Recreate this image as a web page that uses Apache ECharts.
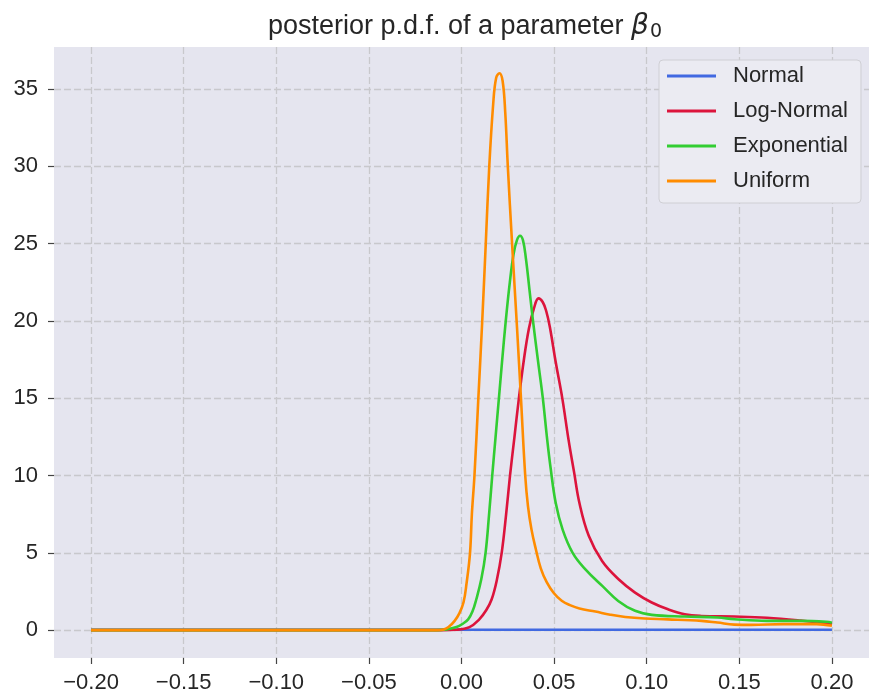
<!DOCTYPE html>
<html>
<head>
<meta charset="utf-8">
<title>posterior p.d.f. of a parameter β0</title>
<script src="https://cdn.jsdelivr.net/npm/echarts@6/dist/echarts.min.js"></script>
<style>
  html, body { margin: 0; padding: 0; background: #ffffff; }
  #chart { width: 869px; height: 700px; }
</style>
</head>
<body>
<div id="chart"></div>
<script>
// Posterior densities of beta_0 under four priors (x: parameter value, y: density)
const normalX = [-0.2, -0.1, 0.0, 0.1, 0.2];
const normalY = [0.03, 0.03, 0.03, 0.03, 0.03];

const logNormalX = [-0.2, -0.1, -0.0107, -0.0027, 0.0043, 0.0096, 0.0134, 0.0163, 0.0190, 0.0217,
  0.0241, 0.0262, 0.0286, 0.0310, 0.0337, 0.0364, 0.0391, 0.0416, 0.0439, 0.0458,
  0.0477, 0.0509, 0.0544, 0.0578, 0.0608, 0.0637, 0.0687, 0.0759, 0.0848, 0.0937,
  0.1027, 0.1115, 0.1205, 0.1294, 0.1473, 0.1649, 0.1831, 0.2000];
const logNormalY = [0, 0, 0, 0.03, 0.2, 0.7, 1.3, 2.0, 3.2, 5,
  7.5, 10, 12.5, 15, 17.5, 19.5, 20.8, 21.45, 21.2, 20.6,
  19.6, 17.3, 15, 12.3, 10.2, 8.2, 6.1, 4.47, 3.29, 2.43,
  1.79, 1.35, 1.03, 0.92, 0.88, 0.8, 0.62, 0.4];

const exponentialX = [-0.2, -0.1, -0.0134, -0.0080, -0.0027, 0.0005, 0.0036, 0.0059, 0.0080, 0.0107,
  0.0130, 0.0149, 0.0166, 0.0184, 0.0202, 0.0220, 0.0239, 0.0261, 0.0281, 0.0299,
  0.0316, 0.0332, 0.0348, 0.0367, 0.0386, 0.0412, 0.0439, 0.0461, 0.0482, 0.0509,
  0.0546, 0.0600, 0.0669, 0.0760, 0.0846, 0.0937, 0.1028, 0.1205, 0.1382, 0.1473,
  0.1649, 0.1831, 0.1971, 0.2000];
const exponentialY = [0, 0, 0, 0.05, 0.2, 0.4, 0.7, 1.2, 2.0, 3.3,
  5, 7.5, 10, 12.5, 15, 17.5, 20, 22.5, 24.3, 25.2,
  25.5, 25.2, 24, 22, 20, 17.5, 15, 12.5, 10.4, 8.2,
  6.5, 5.0, 3.93, 2.86, 1.89, 1.25, 0.99, 0.88, 0.82, 0.71,
  0.6, 0.6, 0.54, 0.48];

const uniformX = [-0.2, -0.1, -0.0134, -0.0096, -0.0070, -0.0037, -0.0011, 0.0011, 0.0027, 0.0046,
  0.0056, 0.0070, 0.0091, 0.0112, 0.0131, 0.0150, 0.0171, 0.0187, 0.0205, 0.0222,
  0.0236, 0.0250, 0.0273, 0.0300, 0.0321, 0.0344, 0.0359, 0.0378, 0.0402, 0.0428,
  0.0460, 0.0498, 0.0541, 0.0589, 0.0637, 0.0723, 0.0803, 0.0884, 0.0990, 0.1114,
  0.1296, 0.1382, 0.1473, 0.1564, 0.1740, 0.1917, 0.2000];
const uniformY = [0, 0, 0, 0.05, 0.2, 0.6, 1.1, 1.8, 3, 5,
  7.5, 10, 15, 20, 25, 30, 34, 35.7, 36, 35.5,
  33.5, 30, 25, 19.5, 15, 10, 8, 6.5, 5.2, 4.0,
  3.1, 2.4, 1.9, 1.6, 1.4, 1.2, 1.0, 0.85, 0.75, 0.7,
  0.6, 0.49, 0.36, 0.34, 0.39, 0.39, 0.28];

const xTicks = [-0.2, -0.15, -0.1, -0.05, 0, 0.05, 0.1, 0.15, 0.2];
const yTicks = [0, 5, 10, 15, 20, 25, 30, 35];

const seriesNames = ['Normal', 'Log-Normal', 'Exponential', 'Uniform'];
const seriesColors = ['#4169e1', '#dc143c', '#32cd32', '#ff8c00'];
const seriesXs = [normalX, logNormalX, exponentialX, uniformX];
const seriesYs = [normalY, logNormalY, exponentialY, uniformY];

const FONT = '"Liberation Sans", Arial, sans-serif';
const TEXT = '#262626';
const GRID_LINE = { type: [7, 3], color: '#c8c8cc', width: 1.3 };

const zip = (xs, ys) => xs.map((x, i) => [x, ys[i]]);
const fmtX = v => v.toFixed(2).replace('-', '\u2212');

const chart = echarts.init(document.getElementById('chart'), null, { renderer: 'canvas' });

chart.setOption({
  animation: false,
  backgroundColor: '#ffffff',
  title: {
    text: '{a|posterior p.d.f. of a parameter }{b|\u03b2}{c|0}',
    left: 465,
    textAlign: 'center',
    top: 12,
    padding: 0,
    textStyle: {
      fontWeight: 'normal',
      rich: {
        a: { fontFamily: FONT, fontSize: 27, fontWeight: 'normal', color: TEXT },
        b: { fontFamily: '"DejaVu Sans", sans-serif', fontStyle: 'italic', fontWeight: 'normal', fontSize: 28, color: TEXT },
        c: { fontFamily: '"DejaVu Sans", sans-serif', fontWeight: 'normal', fontSize: 19, color: TEXT, padding: [11, 0, 0, 1] }
      }
    }
  },
  grid: {
    left: 54, right: -6, top: 47, bottom: 42,
    show: true, backgroundColor: '#e5e5ef', borderWidth: 0,
    containLabel: false
  },
  legend: {
    orient: 'vertical',
    left: 659, top: 60,
    padding: [5, 13, 11, 8],
    itemGap: 13,
    itemWidth: 49, itemHeight: 3,
    icon: 'rect',
    selectedMode: false,
    backgroundColor: '#ebebf2',
    borderColor: '#cfcfd4', borderWidth: 1, borderRadius: 4,
    textStyle: { fontFamily: FONT, fontSize: 22, lineHeight: 22, color: TEXT, padding: [0, 0, 0, 12] },
    data: seriesNames
  },
  xAxis: {
    type: 'value', min: -0.22, max: 0.22,
    axisLine: { show: false, onZero: false },
    axisTick: { show: true, customValues: xTicks, length: 6, lineStyle: { color: '#444', width: 1.2 } },
    axisLabel: { customValues: xTicks, formatter: fmtX, fontFamily: FONT, fontSize: 22, color: TEXT, margin: 14 },
    splitLine: { show: true, lineStyle: GRID_LINE }
  },
  yAxis: {
    type: 'value', min: -1.8, max: 37.7,
    axisLine: { show: false, onZero: false },
    axisTick: { show: true, customValues: yTicks, length: 6, lineStyle: { color: '#444', width: 1.2 } },
    axisLabel: { customValues: yTicks, fontFamily: FONT, fontSize: 22, color: TEXT, margin: 16 },
    splitLine: { show: true, lineStyle: GRID_LINE }
  },
  series: seriesNames.map((name, i) => ({
    name,
    type: 'line',
    data: zip(seriesXs[i], seriesYs[i]),
    showSymbol: false,
    smooth: 0.4,
    color: seriesColors[i],
    lineStyle: { color: seriesColors[i], width: 2.6 },
    z: 2 + i
  }))
});
</script>
</body>
</html>
